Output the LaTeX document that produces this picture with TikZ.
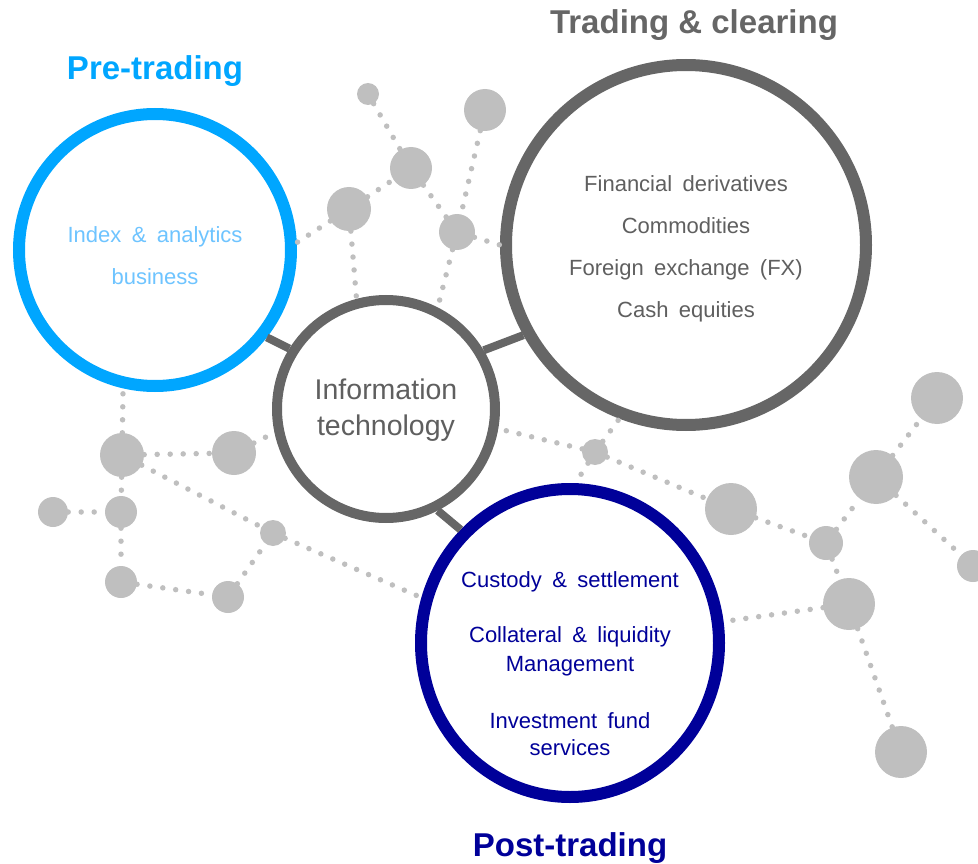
\documentclass[tikz,border=0pt]{standalone}
\usepackage{fontspec}
\setmainfont{Liberation Sans}[WordSpace=1.7]
\newfontfamily\titlefont{Liberation Sans}[WordSpace=1.0]
\usepackage{xcolor}
\usetikzlibrary{shapes.geometric, positioning}

\definecolor{preblue}{RGB}{0,166,255}
\definecolor{prelight}{RGB}{110,196,255}
\definecolor{tradegray}{RGB}{102,102,102}
\definecolor{textgray}{RGB}{95,95,95}
\definecolor{postnavy}{RGB}{0,0,153}
\definecolor{dotgray}{RGB}{191,191,191}

\begin{document}
\begin{tikzpicture}[x=1pt, y=-1pt,
        dot/.style={circle, fill=dotgray, inner sep=0pt, minimum size=#1},
        ring/.style={circle, draw=#1, line width=12pt, fill=white, inner sep=0pt},
        link/.style={draw=dotgray, line width=5.5pt, line cap=round, dash pattern=on 0pt off 13pt},
        bar/.style={draw=tradegray, line width=8pt},
        title/.style={font=\titlefont\fontsize{33}{36}\selectfont\bfseries, inner sep=0pt},
        body/.style={font=\fontsize{22}{42}\selectfont, align=center, inner sep=0pt}]
    \clip (0, 0) rectangle (978, 864);

    % big circles
    \node [ring=preblue, minimum size=272pt] (pre) at (155, 250) {};
    \node [ring=tradegray, minimum size=360pt] (trade) at (686, 245) {};
    \node [ring=tradegray, line width=10pt, minimum size=218pt] (it) at (386, 409) {};
    \node [ellipse, draw=postnavy, line width=12pt, fill=white, inner sep=0pt,
           minimum width=298pt, minimum height=308pt] (post) at (570, 643) {};

    % small grey dots
    \node [dot=22pt] (g1) at (368, 94) {};
    \node [dot=42pt] (g2) at (485, 110) {};
    \node [dot=42pt] (g3) at (411, 168) {};
    \node [dot=44pt] (g4) at (349, 209) {};
    \node [dot=36pt] (g5) at (457, 232) {};
    \node [dot=44pt] (h1) at (122, 455) {};
    \node [dot=44pt] (h2) at (234, 453) {};
    \node [dot=30pt] (h3) at (53, 512) {};
    \node [dot=32pt] (h4) at (121, 512) {};
    \node [dot=32pt] (h5) at (121, 582) {};
    \node [dot=26pt] (h6) at (273, 533) {};
    \node [dot=32pt] (h7) at (228, 597) {};
    \node [dot=52pt] (r1) at (937, 398) {};
    \node [dot=54pt] (r2) at (876, 477) {};
    \node [dot=52pt] (r3) at (731, 509) {};
    \node [dot=34pt] (r4) at (826, 543) {};
    \node [dot=52pt] (r5) at (849, 604) {};
    \node [dot=52pt] (r6) at (901, 752) {};
    \node [dot=32pt] (r7) at (973, 566) {};
    \node [dot=26pt] (r8) at (595, 452) {};

    % dotted links
    \draw [link] (g1) -- (g3);
    \draw [link] (g2) -- (g5);
    \draw [link] (g4) -- (g3);
    \draw [link] (g3) -- (g5);
    \draw [link] (g4) -- (pre.3);
    \draw [link] (g4) -- (it.105);
    \draw [link] (g5) -- (it.63);
    \draw [link] (g5) -- (trade.180);
    \draw [link] (h1) -- (pre.257);
    \draw [link] (h1) -- (h2);
    \draw [link] (h2) -- (it.192);
    \draw [link] (h1) -- (h4);
    \draw [link] (h3) -- (h4);
    \draw [link] (h4) -- (h5);
    \draw [link] (h5) -- (h7);
    \draw [link] (h7) -- (h6);
    \draw [link] (h1) -- (h6);
    \draw [link] (h6) -- (post.163);
    \draw [link] (r8) -- (it.-10);
    \draw [link] (r8) -- (r3);
    \draw [link] (r8) -- (trade.249);
    \draw [link] (r8) -- (post.88);
    \draw [link] (r3) -- (r4);
    \draw [link] (r4) -- (r2);
    \draw [link] (r2) -- (r1);
    \draw [link] (r2) -- (r7);
    \draw [link] (r4) -- (r5);
    \draw [link] (r5) -- (post);
    \draw [link] (r5) -- (r6);

    % thick bars between the rings
    \draw [bar] (pre.322) -- (it.148);
    \draw [bar] (it.31) -- (trade.209);
    \draw [bar] (it.297) -- (post.134);

    % titles
    \node [title, text=preblue] (pretitle) at (155, 71) {Pre-trading};
    \node [title, text=tradegray] (tradetitle) at (694, 25) {Trading \& clearing};
    \node [title, text=postnavy] (posttitle) at (570, 848) {Post-trading};

    % texts in the rings
    \node [body, text=prelight] (pretext) at (155, 256) {Index \& analytics\\business};
    \node [body, text=textgray] (tradetext) at (686, 249) {Financial derivatives\\Commodities\\Foreign exchange (FX)\\Cash equities};
    \node [body, text=textgray, font=\fontsize{28.5}{36}\selectfont] (ittext) at (386, 410) {Information\\technology};
    \node [body, text=postnavy] (custody) at (570, 582) {Custody \& settlement};
    \node [body, text=postnavy, font=\fontsize{22}{29}\selectfont] (collateral) at (570, 651) {Collateral \& liquidity\\Management};
    \node [body, text=postnavy, font=\fontsize{22}{27}\selectfont] (fund) at (570, 734) {Investment fund\\services};
\end{tikzpicture}
\end{document}
